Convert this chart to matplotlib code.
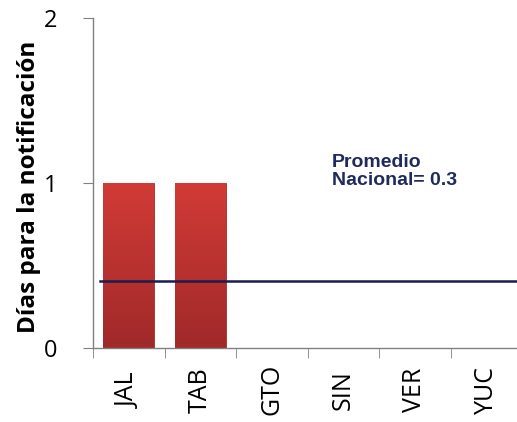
import matplotlib
matplotlib.use("Agg")
import matplotlib.pyplot as plt
import numpy as np
from matplotlib.colors import LinearSegmentedColormap

# data
estados = ["JAL", "TAB", "GTO", "SIN", "VER", "YUC"]
dias = [1, 1, 0, 0, 0, 0]
promedio_linea = 0.406
etiqueta_promedio = "Promedio\nNacional= 0.3"

fig = plt.figure(figsize=(5.17, 4.22), dpi=100)
ax = fig.add_axes([0.18, 0.175, 0.83, 0.782])

x = np.arange(len(estados))
bars = ax.bar(x, dias, width=0.71, color="#c0332e", edgecolor="#a82a26", linewidth=0.6, zorder=2)

# vertical gradient on each bar
cmap = LinearSegmentedColormap.from_list("rojo", ["#a0292a", "#d23b36"])
grad = np.linspace(0, 1, 256).reshape(-1, 1)
for b in bars:
    if b.get_height() <= 0:
        continue
    x0, y0 = b.get_x(), b.get_y()
    im = ax.imshow(grad, cmap=cmap, origin="lower", aspect="auto",
                   extent=[x0, x0 + b.get_width(), y0, y0 + b.get_height()], zorder=2.5)
    im.set_clip_path(b)

ax.plot([-0.4, len(estados) - 0.5], [promedio_linea, promedio_linea], color="#1c1c4f", linewidth=1.8, zorder=3)
ax.text(2.84, 1.07, etiqueta_promedio, color="#1f2b5c", fontsize=14, fontweight="bold",
        family="Liberation Sans", va="center", ha="left", linespacing=1.05)

ax.set_xlim(-0.5, len(estados) - 0.5)
ax.set_ylim(0, 2)
ax.set_yticks([0, 1, 2])
ax.set_yticklabels(["0", "1", "2"], fontsize=17, family="Open Sans")
ax.set_xticks(x)
ax.set_xticklabels(estados, rotation=90, fontsize=18, family="Open Sans")
for lbl in ax.get_xticklabels():
    lbl.set_verticalalignment("center")
ax.set_xticks(np.arange(len(estados) + 1) - 0.5, minor=True)
ax.tick_params(axis="x", which="major", length=0, pad=30)
ax.tick_params(axis="x", which="minor", length=7, color="#808080", direction="out")
ax.tick_params(axis="y", length=7, color="#808080", direction="out", pad=19)
ax.set_ylabel("Días para la notificación", fontsize=17.5, fontweight="bold", family="Open Sans")
ax.yaxis.set_label_coords(-0.122, 0.49)

for s in ["top", "right"]:
    ax.spines[s].set_visible(False)
for s in ["left", "bottom"]:
    ax.spines[s].set_color("#808080")
    ax.spines[s].set_linewidth(1.0)

fig.savefig("out.png", dpi=100)
